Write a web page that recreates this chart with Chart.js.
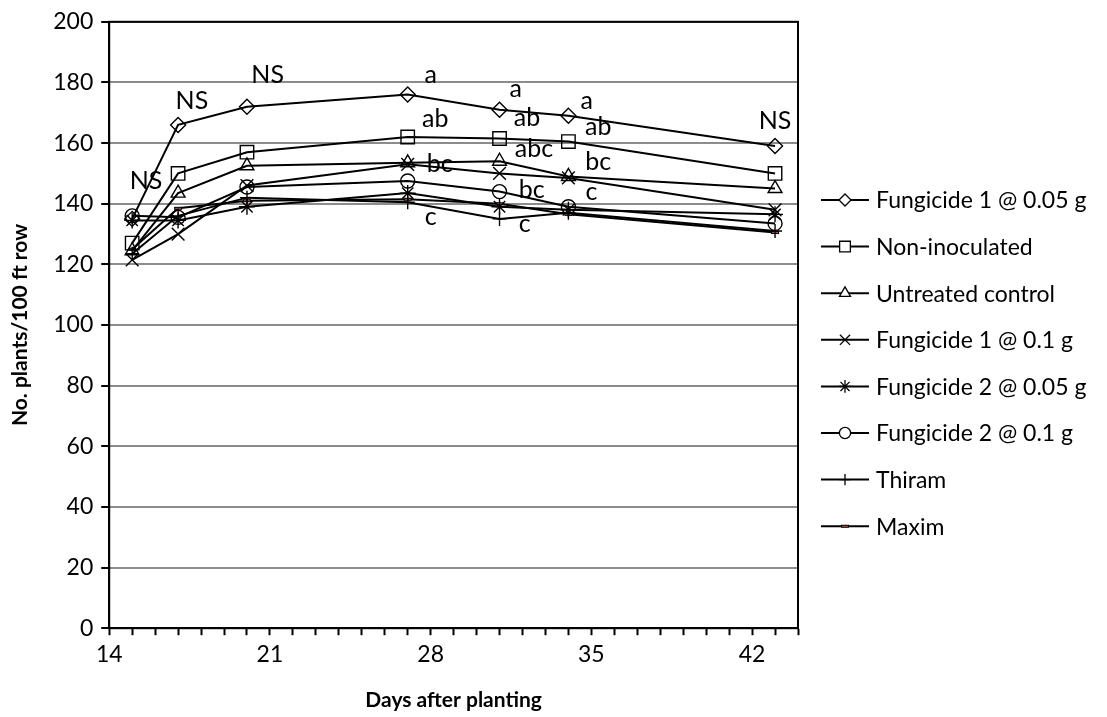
<!DOCTYPE html>
<html>
<head>
<meta charset="utf-8">
<script src="https://cdn.jsdelivr.net/npm/chart.js@4.4.1/dist/chart.umd.min.js"></script>
<style>
  body { margin: 0; background: #fff; }
  #wrap { width: 1107px; height: 717px; }
</style>
</head>
<body>
<div id="wrap"><canvas id="plantChart" width="1107" height="717"></canvas></div>
<script>
const days = [15, 17, 20, 27, 31, 34, 43];

const seriesNames = [
    'Fungicide 1 @ 0.05 g',
    'Non-inoculated',
    'Untreated control',
    'Fungicide 1 @ 0.1 g',
    'Fungicide 2 @ 0.05 g',
    'Fungicide 2 @ 0.1 g',
    'Thiram',
    'Maxim'
];

const fung1Low   = [135, 166, 172, 176, 171, 169, 159];
const nonInoc    = [127, 150, 157, 162, 161.5, 160.5, 150];
const untreated  = [124.5, 143.5, 152.5, 153.5, 154, 149, 145];
const fung1High  = [121.5, 130, 146, 153, 150, 148.5, 138];
const fung2Low   = [134.5, 134.5, 139, 143.5, 139, 138, 136.5];
const fung2High  = [136, 135.5, 145.5, 147.5, 144, 139, 133.5];
const thiram     = [123.5, 136, 142, 140.5, 135, 137, 131];
const maxim      = [125, 138.5, 141, 141.5, 140, 136.5, 130.5];

const allSeries = [fung1Low, nonInoc, untreated, fung1High, fung2Low, fung2High, thiram, maxim];

// letters of mean separation written beside the points
const noteTexts  = ['NS', 'NS', 'NS', 'a', 'ab', 'bc', 'c', 'a', 'ab', 'abc', 'bc', 'c', 'a', 'ab', 'bc', 'c', 'NS'];
const noteDays   = [15.6, 17.6, 20.9, 28, 28.2, 28.4, 28, 31.7, 32.2, 32.5, 32.4, 32.1, 34.8, 35.3, 35.3, 35, 43];
const noteValues = [147.5, 174, 182.5, 182.5, 168, 153.2, 135.5, 177.7, 168.2, 158, 144.7, 133.2, 174, 165.3, 153.8, 144, 167.3];

const yTicks = [0, 20, 40, 60, 80, 100, 120, 140, 160, 180, 200];

// small dash marker used for Maxim
const dash = document.createElement('canvas');
dash.width = 10; dash.height = 5;
(function () {
    const c = dash.getContext('2d');
    c.fillStyle = '#c0504d';
    c.fillRect(1, 1, 8, 3);
    c.strokeStyle = '#000';
    c.lineWidth = 1;
    c.strokeRect(1.5, 1.5, 7, 2);
})();

const markers = [
    { style: 'rectRot', radius: 7.5 },
    { style: 'rect', radius: 9.5 },
    { style: 'triangle', radius: 8 },
    { style: 'crossRot', radius: 9 },
    { style: 'star', radius: 8 },
    { style: 'circle', radius: 7 },
    { style: 'cross', radius: 7 },
    { style: dash, radius: 5 }
];

const FONT = 'Lato, "Open Sans", sans-serif';

const frameAndNotes = {
    id: 'frameAndNotes',
    afterDatasetsDraw(chart) {
        const { ctx, chartArea: a, scales } = chart;
        ctx.save();
        ctx.strokeStyle = '#000';
        ctx.lineWidth = 2;
        ctx.strokeRect(a.left, a.top, a.right - a.left, a.bottom - a.top);

        ctx.fillStyle = '#000';
        ctx.font = '25px ' + FONT;
        ctx.textAlign = 'center';
        ctx.textBaseline = 'middle';
        noteTexts.forEach((t, i) => {
            ctx.fillText(t, scales.x.getPixelForValue(noteDays[i]), scales.y.getPixelForValue(noteValues[i]));
        });

        // legend at right
        const lx = 821, ly = 200, step = 46.6;
        ctx.font = '23px ' + FONT;
        ctx.textAlign = 'left';
        chart.data.datasets.forEach((ds, i) => {
            const y = ly + i * step;
            ctx.strokeStyle = '#000';
            ctx.lineWidth = 2;
            ctx.beginPath();
            ctx.moveTo(lx, y);
            ctx.lineTo(lx + 48, y);
            ctx.stroke();
            ctx.fillStyle = '#fff';
            ctx.strokeStyle = '#000';
            ctx.lineWidth = 1.3;
            Chart.helpers.drawPoint(ctx, {
                pointStyle: ds.pointStyle,
                radius: typeof ds.pointStyle === 'string' ? ds.pointRadius * 0.8 : ds.pointRadius,
                borderWidth: 1.3,
                rotation: 0
            }, lx + 24, y);
            ctx.fillStyle = '#000';
            ctx.fillText(ds.label, lx + 55, y + 1);
        });
        ctx.restore();
    }
};

new Chart(document.getElementById('plantChart').getContext('2d'), {
    type: 'line',
    data: {
        labels: days,
        datasets: allSeries.map((vals, i) => ({
            label: seriesNames[i],
            data: vals.map((v, j) => ({ x: days[j], y: v })),
            borderColor: '#000',
            borderWidth: 2,
            backgroundColor: '#fff',
            pointStyle: markers[i].style,
            pointRadius: markers[i].radius,
            pointBorderWidth: 1.4,
            pointBorderColor: '#000',
            pointBackgroundColor: 'rgba(255,255,255,0)',
            tension: 0,
            fill: false
        }))
    },
    options: {
        responsive: false,
        animation: false,
        layout: { padding: { top: -3, right: 309, left: 4, bottom: 0 } },
        plugins: {
            legend: { display: false },
            tooltip: { enabled: false }
        },
        scales: {
            x: {
                type: 'linear',
                min: 14,
                max: 44,
                border: { color: '#000', width: 2 },
                grid: { drawOnChartArea: false, drawTicks: true, tickLength: 7, tickColor: '#000', tickWidth: 2 },
                ticks: {
                    stepSize: 1,
                    autoSkip: false,
                    maxRotation: 0,
                    color: '#000',
                    font: { family: FONT, size: 23 },
                    padding: 6,
                    callback: v => ((v - 14) % 7 === 0 ? String(v) : '')
                },
                title: {
                    display: true,
                    text: 'Days after planting',
                    color: '#000',
                    font: { family: FONT, size: 21, weight: 'bold' },
                    padding: { top: 13 }
                }
            },
            y: {
                min: 0,
                max: 200,
                afterBuildTicks: axis => { axis.ticks = yTicks.map(v => ({ value: v })); },
                border: { color: '#000', width: 2 },
                grid: { color: '#8c8c8c', lineWidth: 2, tickLength: 8, tickColor: '#000', tickWidth: 2 },
                ticks: {
                    color: '#000',
                    font: { family: FONT, size: 23 },
                    padding: 8
                },
                title: {
                    display: true,
                    text: 'No. plants/100 ft row',
                    color: '#000',
                    font: { family: FONT, size: 21, weight: 'bold' },
                    padding: { bottom: 12 }
                }
            }
        }
    },
    plugins: [frameAndNotes]
});
</script>
</body>
</html>
